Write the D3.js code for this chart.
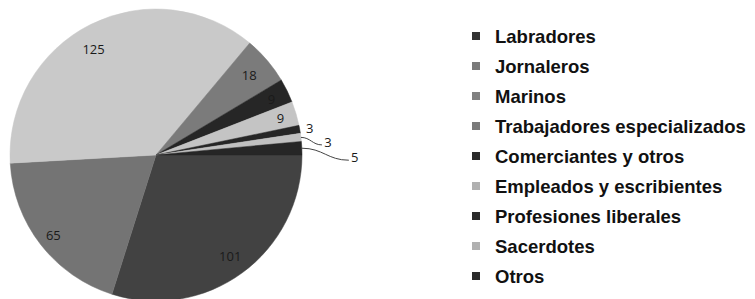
<!DOCTYPE html>
<html>
<head>
<meta charset="utf-8">
<script src="https://cdn.jsdelivr.net/npm/d3@7"></script>
<style>
  body { margin: 0; background: #fff; }
  svg { display: block; }
</style>
</head>
<body>
<svg id="chart" width="755" height="299"></svg>
<script>
// Data
const categories = ['Labradores', 'Jornaleros', 'Marinos', 'Trabajadores especializados',
  'Comerciantes y otros', 'Empleados y escribientes', 'Profesiones liberales', 'Sacerdotes', 'Otros'];
const values = [101, 65, 125, 18, 9, 9, 3, 3, 5];
const sliceColors = ['#424242', '#747474', '#c9c9c9', '#7b7b7b', '#262626', '#c4c4c4', '#262626', '#c0c0c0', '#262626'];
const legendColors = ['#333333', '#7a7a7a', '#808080', '#7a7a7a', '#2a2a2a', '#b0b0b0', '#2a2a2a', '#b0b0b0', '#2a2a2a'];

const svg = d3.select('#chart');
const cx = 156, cy = 155, r = 146;

const pie = d3.pie()
  .sort(null)
  .startAngle(Math.PI / 2)
  .endAngle(Math.PI / 2 + 2 * Math.PI);
const arcs = pie(values);
const arc = d3.arc().innerRadius(0).outerRadius(r);

const g = svg.append('g').attr('transform', `translate(${cx},${cy})`);

g.selectAll('path.slice')
  .data(arcs)
  .join('path')
  .attr('class', 'slice')
  .attr('d', arc)
  .attr('fill', (d, i) => sliceColors[i])
  .attr('stroke', (d, i) => sliceColors[i])
  .attr('stroke-width', 0.5);

// label layout: inside labels sit at k * r on the mid angle (plus small angle tweak),
// outside labels are offset from the slice edge point
const labelK = [0.86, 0.89, 0.84, 0.84, 0.88, 0.89, 1.07, null, null];
const labelTurn = [0, 0, -4, 0, 0, 0, 0, 0, 0];   // degrees
const outside = { 7: [27, 4.5], 8: [53, 9] };     // [dx, dy] from edge point

arcs.forEach((d, i) => {
  const a = (d.startAngle + d.endAngle) / 2 + labelTurn[i] * Math.PI / 180;
  const ex = Math.sin(a) * r, ey = -Math.cos(a) * r;
  let x, y;
  if (outside[i]) {
    x = ex + outside[i][0];
    y = ey + outside[i][1];
    const lx = x - 6, ly = y + 3;
    const len = lx - ex;
    g.append('path')
      .attr('d', `M${ex},${ey} C${ex + len * 0.45},${ey} ${lx - len * 0.45},${ly} ${lx},${ly}`)
      .attr('fill', 'none')
      .attr('stroke', '#444')
      .attr('stroke-width', 1);
  } else {
    x = Math.sin(a) * r * labelK[i];
    y = -Math.cos(a) * r * labelK[i];
  }
  g.append('text')
    .attr('x', x)
    .attr('y', y)
    .attr('text-anchor', 'middle')
    .attr('dominant-baseline', 'central')
    .attr('font-family', 'Open Sans, sans-serif')
    .attr('font-size', 13)
    .attr('fill', '#1a1a1a')
    .text(values[i]);
});

// Legend
const legend = svg.append('g').attr('transform', 'translate(472,36)');
const rowH = 30;
const rows = legend.selectAll('g.row')
  .data(categories)
  .join('g')
  .attr('class', 'row')
  .attr('transform', (d, i) => `translate(0,${i * rowH})`);

rows.append('rect')
  .attr('x', 0).attr('y', -4)
  .attr('width', 8).attr('height', 8)
  .attr('fill', (d, i) => legendColors[i]);

rows.append('text')
  .attr('x', 23)
  .attr('y', 0.5)
  .attr('dominant-baseline', 'central')
  .attr('font-family', 'Liberation Sans, Arial, sans-serif')
  .attr('font-weight', 'bold')
  .attr('font-size', 18.5)
  .attr('fill', '#111')
  .text(d => d);
</script>
</body>
</html>
